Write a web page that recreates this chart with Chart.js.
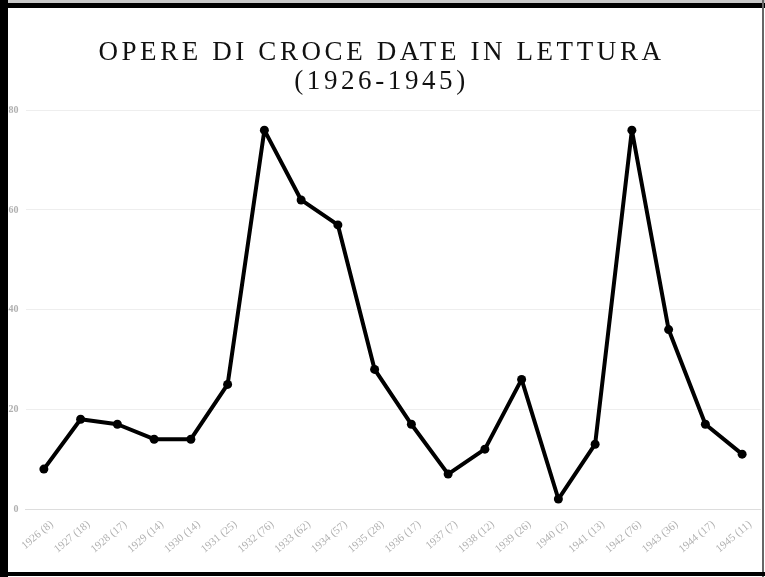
<!DOCTYPE html>
<html>
<head>
<meta charset="utf-8">
<script src="https://cdn.jsdelivr.net/npm/chart.js@4.4.1/dist/chart.umd.min.js"></script>
<style>
  html, body { margin: 0; padding: 0; background: #fff; }
  #wrap { position: relative; width: 765px; height: 577px; overflow: hidden; background: #fff; }
  #wrap canvas { position: absolute; left: 0; top: 0; }
  .b { position: absolute; }
</style>
</head>
<body>
<div id="wrap">
  <canvas id="c" width="765" height="577"></canvas>
  <div class="b" style="left:0;top:0;width:765px;height:3px;background:#c8c8c8"></div>
  <div class="b" style="left:0;top:3px;width:765px;height:5px;background:#000"></div>
  <div class="b" style="left:0;top:0;width:8px;height:577px;background:#000"></div>
  <div class="b" style="left:762px;top:0;width:2px;height:577px;background:#666"></div>
  <div class="b" style="left:0;top:572px;width:765px;height:4px;background:#000"></div>
</div>
<script>
const years = ['1926','1927','1928','1929','1930','1931','1932','1933','1934','1935','1936','1937','1938','1939','1940','1941','1942','1943','1944','1945'];
const counts = [8, 18, 17, 14, 14, 25, 76, 62, 57, 28, 17, 7, 12, 26, 2, 13, 76, 36, 17, 11];
const labels = years.map((y, i) => y + ' (' + counts[i] + ')');
const titleLines = ['OPERE DI CROCE DATE IN LETTURA', '(1926-1945)'];
const yTicks = [0, 20, 40, 60, 80];

const spacingPlugin = {
  id: 'titleSpacing',
  afterLayout(chart) {
    if (chart.titleBlock) { chart.titleBlock.left -= 10; }
  },
  beforeDraw(chart) { chart.ctx.letterSpacing = '3.6px'; },
  beforeDatasetsDraw(chart) { chart.ctx.letterSpacing = '0px'; }
};

new Chart(document.getElementById('c'), {
  type: 'line',
  data: {
    labels: labels,
    datasets: [{
      data: counts,
      borderColor: '#000',
      backgroundColor: '#000',
      borderWidth: 4,
      borderJoinStyle: 'round',
      borderCapStyle: 'round',
      pointRadius: 4.5,
      pointBackgroundColor: '#000',
      pointBorderWidth: 0,
      tension: 0,
      fill: false
    }]
  },
  plugins: [spacingPlugin],
  options: {
    responsive: false,
    animation: false,
    layout: { padding: { left: 8, top: 8, right: 0, bottom: 0 } },
    plugins: {
      legend: { display: false },
      tooltip: { enabled: false },
      title: {
        display: true,
        text: titleLines,
        color: '#111',
        font: { family: '"Liberation Serif", "Times New Roman", serif', size: 27, weight: 'normal', lineHeight: 1.06 },
        padding: { top: 31, bottom: 14 }
      }
    },
    scales: {
      x: {
        offset: true,
        grid: { display: false, drawTicks: false },
        border: { display: true, color: '#dddddd', width: 1 },
        ticks: {
          autoSkip: false,
          minRotation: 40,
          maxRotation: 40,
          padding: 9,
          labelOffset: 8,
          color: '#b0b0b0',
          z: 1,
          font: { family: '"Liberation Serif", "Times New Roman", serif', size: 11 }
        },
        afterFit(s) { s.height = 68; }
      },
      y: {
        min: 0,
        max: 80,
        afterBuildTicks(s) { s.ticks = yTicks.map(v => ({ value: v })); },
        grid: { color: '#eeeeee', drawTicks: false },
        border: { display: false },
        ticks: {
          padding: 7,
          color: '#b0b0b0',
          z: 1,
          font: { family: '"Liberation Serif", "Times New Roman", serif', size: 10, weight: 'bold' }
        },
        afterFit(s) { s.width = 17.5; }
      }
    }
  }
});
</script>
</body>
</html>
